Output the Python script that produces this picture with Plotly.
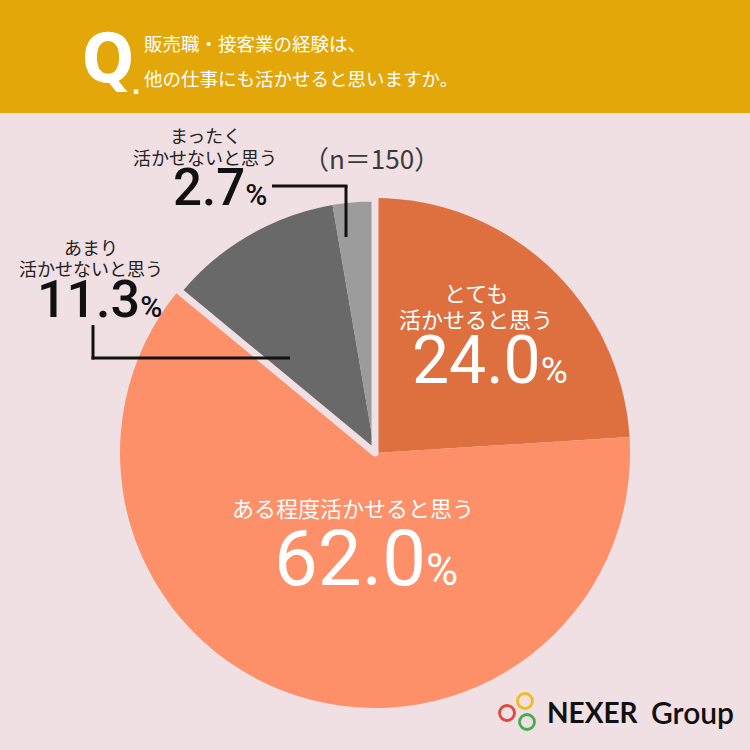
import plotly.graph_objects as go

W = H = 750
BG = "#F0DFE3"
BANNER = "#E4A70A"

# ---- data ----
categories = ["とても活かせると思う", "ある程度活かせると思う", "あまり活かせないと思う", "まったく活かせないと思う"]
values = [24.0, 62.0, 11.3, 2.7]
colors = ["#DE703F", "#FE9069", "#696969", "#9C9C9C"]
n_total = 150
question_lines = ["販売職・接客業の経験は、", "他の仕事にも活かせると思いますか。"]
label_lines = [["とても", "活かせると思う"], ["ある程度活かせると思う"], ["あまり", "活かせないと思う"], ["まったく", "活かせないと思う"]]


def px(x):
    return x / W


def py(y):
    return 1 - y / H


JP = "Noto Sans CJK JP"
NUM = "Roboto"

fig = go.Figure()

dom = dict(x=[px(120), px(630)], y=[py(708), py(198)])
fig.add_trace(go.Pie(
    labels=categories, values=values, sort=False, direction="clockwise", rotation=0,
    marker=dict(colors=colors, line=dict(width=0)),
    textinfo="none", hoverinfo="skip", domain=dom, showlegend=False,
))
# outline separating the two negative slices (as a group) from the rest
group_vals = [values[0], values[1], values[2] + values[3]]
fig.add_trace(go.Pie(
    labels=["gap-0", "gap-1", "gap-2"], values=group_vals, sort=False, direction="clockwise", rotation=0,
    marker=dict(colors=["rgba(0,0,0,0)"] * 3, line=dict(color=BG, width=[0, 0, 7])),
    textinfo="none", hoverinfo="skip", domain=dom, showlegend=False,
))

shapes = []
# banner
shapes.append(dict(type="rect", xref="paper", yref="paper", x0=0, x1=1, y0=py(113), y1=1,
                   fillcolor=BANNER, line=dict(width=0), layer="below"))


def seg(x0, y0, x1, y1, w=3, c="#111111"):
    shapes.append(dict(type="line", xref="paper", yref="paper", x0=px(x0), y0=py(y0), x1=px(x1), y1=py(y1),
                       line=dict(color=c, width=w)))


# leader lines
seg(272, 186, 347.5, 186)
seg(346, 186, 346, 237)
seg(93, 325, 93, 359.5)
seg(91.5, 358, 290, 358)

# logo rings
for cx, cy, c in [(507, 713, "#E2483A"), (525, 701, "#F2BD1B"), (527, 722, "#47AE4F")]:
    r = 7.5
    shapes.append(dict(type="circle", xref="paper", yref="paper", x0=px(cx - r), x1=px(cx + r),
                       y0=py(cy + r), y1=py(cy - r), line=dict(color=c, width=2.8)))

ann = []


def txt(x, y, s, size, color, family=JP, xanchor="center", weight=None):
    f = dict(size=size, color=color, family=family)
    if weight:
        f["weight"] = weight
    ann.append(dict(x=px(x), y=py(y), xref="paper", yref="paper", text=s, showarrow=False,
                    xanchor=xanchor, yanchor="middle", font=f))


# banner text
txt(108, 58, "Q", 68, "white", family="Liberation Sans Narrow, DejaVu Sans Condensed, Roboto Condensed, Roboto", weight="bold")
txt(136, 84, ".", 30, "white", family="Liberation Sans", weight="bold")
txt(142, 43, question_lines[0], 18.5, "white", xanchor="left")
txt(142, 78, question_lines[1], 18.5, "white", xanchor="left")

# n
txt(371, 157, f"（n＝{n_total}）", 26, "#3A3A3A")


def pct(v, small):
    return f"{v:.1f}<span style='font-size:{small}px'>%</span>"


# とても
txt(476, 292, label_lines[0][0], 22, "white")
txt(476, 318, label_lines[0][1], 22, "white")
txt(490, 360, pct(values[0], 37), 66, "white", family=NUM)

# ある程度
txt(353, 507, label_lines[1][0], 22, "white")
txt(366, 558, pct(values[1], 44), 78, "white", family=NUM)

# あまり
txt(91, 247, label_lines[2][0], 18, "#222222")
txt(91, 268, label_lines[2][1], 18, "#222222")
txt(99, 299, pct(values[2], 30), 52, "#111111", family=NUM, weight=500)

# まったく
txt(205, 135, label_lines[3][0], 18, "#222222")
txt(205, 157, label_lines[3][1], 18, "#222222")
txt(220, 188, pct(values[3], 30), 51, "#111111", family=NUM, weight=500)

# logo text
txt(545, 712, "NEXER", 28, "#111111", family="Lato", xanchor="left", weight="bold")
txt(649, 712, "Group", 30, "#111111", family="Lato", xanchor="left", weight=600)

fig.update_layout(
    width=W, height=H, margin=dict(l=0, r=0, t=0, b=0),
    paper_bgcolor=BG, plot_bgcolor=BG,
    shapes=shapes, annotations=ann, showlegend=False,
)

fig.write_html("out.html", config={"displayModeBar": False},
               post_script="document.body.style.margin='0';document.body.style.padding='0';")
